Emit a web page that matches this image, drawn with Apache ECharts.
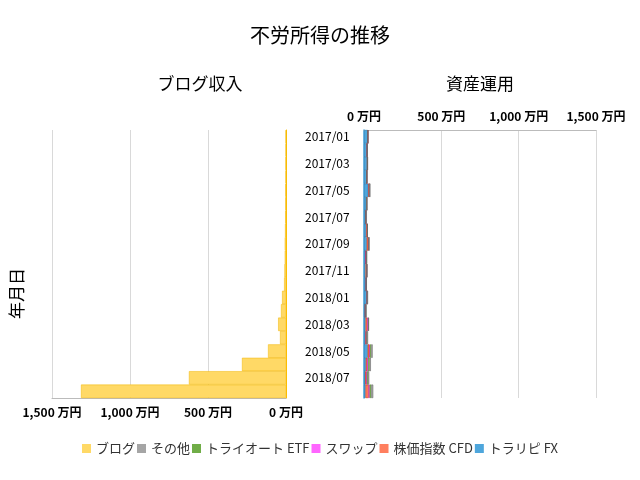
<!DOCTYPE html>
<html><head><meta charset="utf-8">
<script src="https://cdn.jsdelivr.net/npm/echarts@6/dist/echarts.min.js"></script>
<style>html,body{margin:0;padding:0;background:#fff}#c{width:640px;height:480px}</style>
</head><body><div id="c"></div>
<script>
var months = ['2017/01','2017/02','2017/03','2017/04','2017/05','2017/06','2017/07','2017/08','2017/09','2017/10',
              '2017/11','2017/12','2018/01','2018/02','2018/03','2018/04','2018/05','2018/06','2018/07','2018/08'];
var blog  = [2, 2, 3, 3, 4, 4, 5, 6, 8, 8, 10, 12, 25, 32, 50, 38, 115, 282, 622, 1314];
var fx    = [25, 20, 20, 18, 28, 15, 12, 14, 18, 12, 10, 14, 20, 8, 10, 10, 24, 12, 8, 10];
var cfd   = [0, 0, 3, 0, 6, 2, 0, 8, 10, 0, 8, 0, 0, 0, 12, 4, 10, 8, 6, 20];
var swap  = [0, 0, 0, 0, 0, 0, 0, 0, 4, 4, 0, 0, 0, 4, 6, 2, 4, 6, 4, 6];
var etf   = [0, 0, 0, 0, 0, 0, 0, 0, 0, 0, 0, 0, 0, 0, 0, 4, 8, 10, 8, 10];
var other = [0, 4, 0, 4, 8, 6, 6, 0, 0, 4, 4, 4, 6, 4, 4, 6, 10, 8, 8, 14];
var colors = ['#FFD966','#A5A5A5','#70AD47','#FF66FF','#FF7F5F','#4EA6DC'];

var myChart = echarts.init(document.getElementById('c'));
var font = 'Noto Sans CJK JP';
function rseries(name, data, color) {
    return {name: name, type: 'bar', stack: 'a', xAxisIndex: 1, yAxisIndex: 1, data: data,
        barCategoryGap: '0%', itemStyle: {color: color, borderColor: echarts.color.modifyHSL(color, null, null, 0.4), borderWidth: 0.5}};
}
var option = {
    textStyle: {fontFamily: font},
    color: colors,
    title: [
        {text: '不労所得の推移', left: 'center', top: 20, textStyle: {fontSize: 20, fontWeight: 'normal', color: '#000', fontFamily: font}},
        {text: 'ブログ収入', left: 195, top: 70, textAlign: 'center', textStyle: {fontSize: 17, fontWeight: 'normal', color: '#000', fontFamily: font}},
        {text: '資産運用', left: 475, top: 70, textAlign: 'center', textStyle: {fontSize: 17, fontWeight: 'normal', color: '#000', fontFamily: font}}
    ],
    legend: {
        bottom: 20, left: 'center', itemWidth: 9, itemHeight: 9, itemGap: 2, icon: 'rect',
        itemStyle: {borderWidth: 0},
        textStyle: {fontSize: 13, color: '#333', fontFamily: font},
        data: ['ブログ','その他','トライオート ETF','スワップ','株価指数 CFD','トラリピ FX']
    },
    graphic: [{type: 'text', left: 8, top: 268, rotation: Math.PI / 2,
        style: {text: '年月日', fontSize: 17, fill: '#000', fontFamily: font}}],
    grid: [
        {left: 52, right: 354, top: 130, bottom: 82},
        {left: 364, right: 44, top: 130, bottom: 82}
    ],
    xAxis: [
        {gridIndex: 0, type: 'value', inverse: true, min: 0, max: 1500, interval: 500,
         axisLine: {show: true, lineStyle: {color: '#bbb'}}, splitLine: {lineStyle: {color: '#d9d9d9'}},
         axisLabel: {fontWeight: 'bold', color: '#000', fontSize: 12,
            formatter: function (v) { return v.toLocaleString('en-US') + ' 万円'; }}},
        {gridIndex: 1, type: 'value', position: 'top', min: 0, max: 1500, interval: 500,
         axisLine: {show: true, lineStyle: {color: '#bbb'}}, splitLine: {lineStyle: {color: '#d9d9d9'}},
         axisLabel: {fontWeight: 'bold', color: '#000', fontSize: 12,
            formatter: function (v) { return v.toLocaleString('en-US') + ' 万円'; }}}
    ],
    yAxis: [
        {gridIndex: 0, type: 'category', data: months, inverse: true, position: 'right',
         axisLine: {show: true, lineStyle: {color: '#FFC000'}}, axisTick: {show: false},
         axisLabel: {interval: 1, margin: 19, color: '#000', fontSize: 12}},
        {gridIndex: 1, type: 'category', data: months, inverse: true,
         axisLine: {show: true, lineStyle: {color: '#4EA6DC', width: 1.5}}, axisTick: {show: false},
         axisLabel: {show: false}}
    ],
    series: [
        {name: 'ブログ', type: 'bar', data: blog, barCategoryGap: '0%',
         itemStyle: {color: '#FFD966', borderColor: '#F0B400', borderWidth: 0.5}},
        rseries('トラリピ FX', fx, colors[5]),
        rseries('株価指数 CFD', cfd, colors[4]),
        rseries('スワップ', swap, colors[3]),
        rseries('トライオート ETF', etf, colors[2]),
        rseries('その他', other, colors[1])
    ]
};
myChart.setOption(option, true);
</script></body></html>
